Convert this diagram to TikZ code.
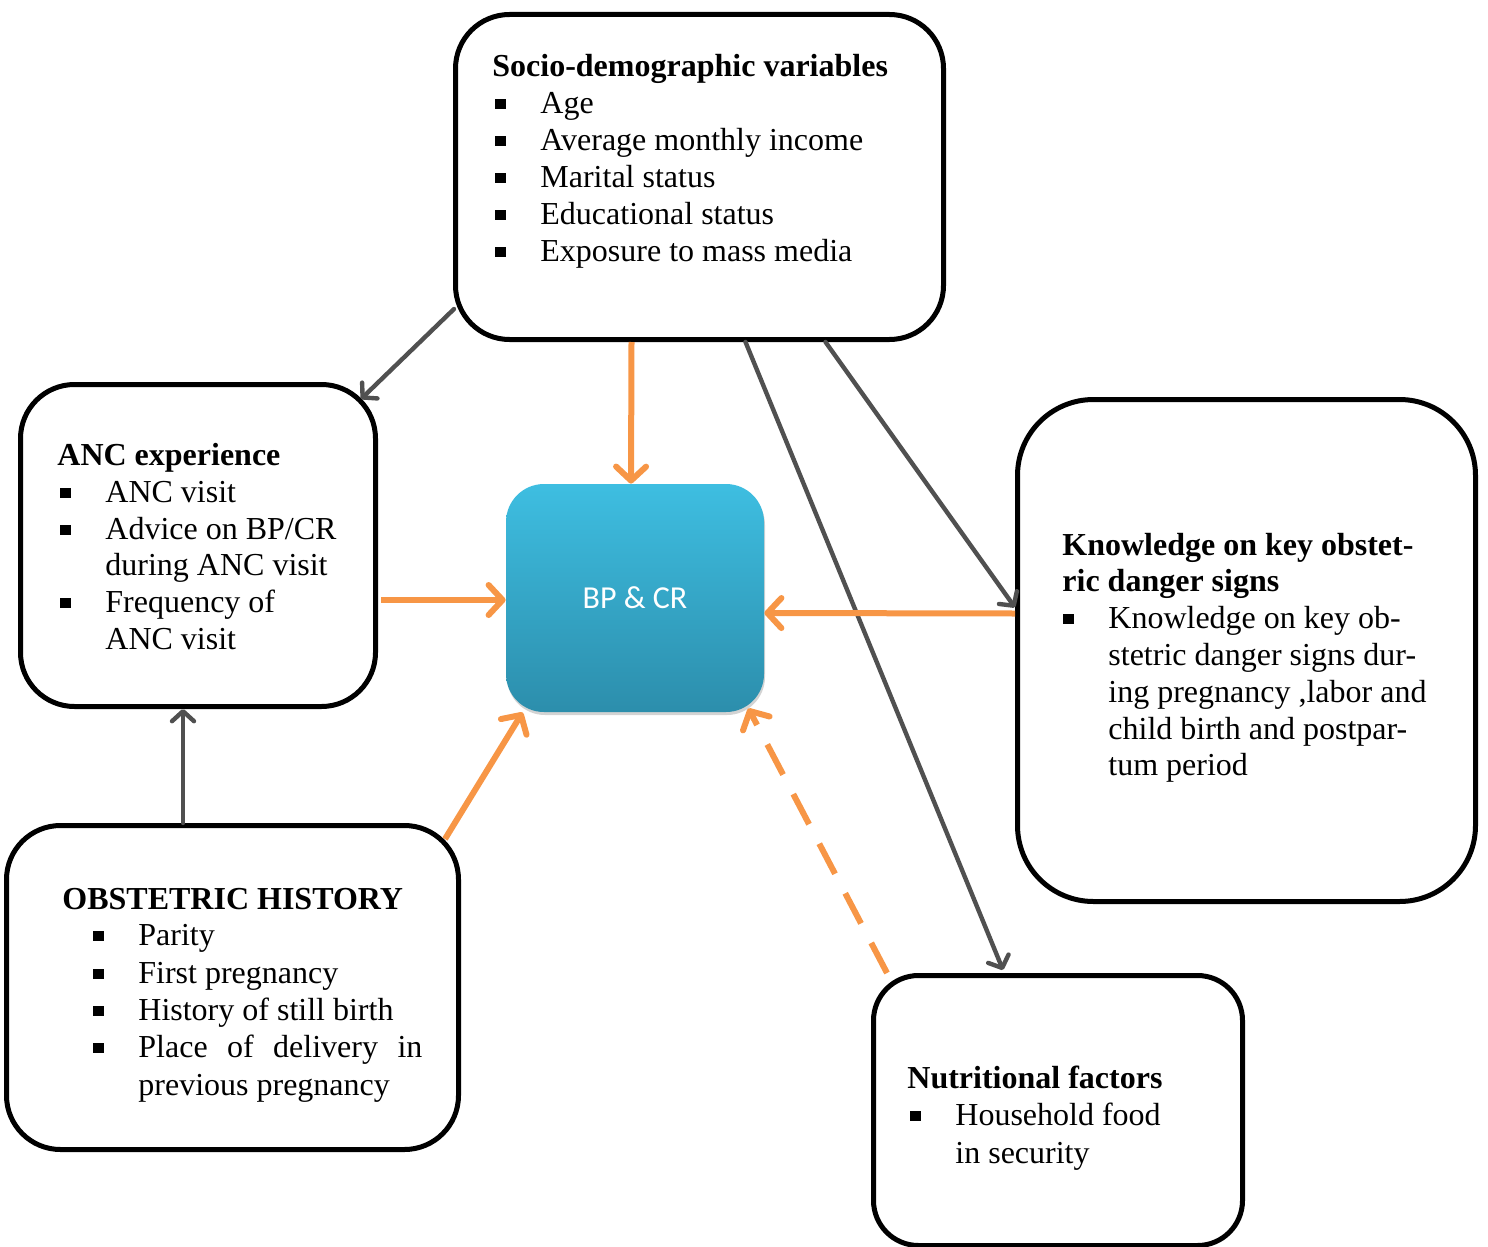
\documentclass[tikz,border=0pt]{standalone}
\usepackage{fontspec}
\setmainfont{Liberation Serif}
\newfontfamily\calib{Carlito}
\usetikzlibrary{arrows.meta,calc,shadows}
\newcommand\myfs{\fontsize{16}{18.5}\selectfont}
\newcommand\mysq{\rule[2pt]{5.2pt}{5.2pt}}
\definecolor{org}{RGB}{247,150,70}
\definecolor{gry}{RGB}{80,80,80}
\definecolor{tealtop}{RGB}{62,190,225}
\definecolor{tealbot}{RGB}{44,142,172}
\begin{document}
\begin{tikzpicture}[x=0.5pt,y=-0.5pt,
  txt/.style={anchor=base west, inner sep=0pt, font=\myfs, yshift=-1pt},
  ttl/.style={txt, font=\myfs\bfseries},
  bx/.style={draw=black, line width=2.5pt, inner sep=0pt, fill=white},
  garr/.style={draw=gry, line width=2.2pt, line cap=round,
     -{Straight Barb[length=5pt,width=11pt,line cap=round,line join=round]}},
  oarr/.style={draw=org, line width=3pt,
     -{Straight Barb[length=7pt,width=15pt,line cap=round,line join=round]}},
]
\useasboundingbox (0,0) rectangle (1488,1247);

% boxes
\node[bx, rounded corners=27pt, minimum width=244pt, minimum height=162.5pt] (socio) at (699.5,177) {};
\node[bx, rounded corners=27pt, minimum width=177.5pt, minimum height=161pt] (anc) at (198,545.5) {};
\node[bx, rounded corners=27pt, minimum width=226pt, minimum height=162pt] (obst) at (232.5,987.5) {};
\node[bx, rounded corners=38pt, minimum width=229pt, minimum height=251pt] (know) at (1246.5,650.5) {};
\node[bx, rounded corners=22.5pt, minimum width=184.5pt, minimum height=135pt] (nutr) at (1058,1110.5) {};
\node[rounded corners=19pt, minimum width=129pt, minimum height=114pt, inner sep=0pt,
  top color=tealtop, bottom color=tealbot, draw=none,
  drop shadow={shadow xshift=0.5pt, shadow yshift=-1.5pt, opacity=0.35},
  text=white, font=\calib\fontsize{16}{19}\selectfont] (bp) at (635,598) {BP \& CR};

% socio text
\node[ttl] (s0) at (492,75) {Socio-demographic variables};
\node[txt] (sb1) at (495,111) {\mysq}; \node[txt] (s1) at (540,111) {Age};
\node[txt] (sb2) at (495,148) {\mysq}; \node[txt] (s2) at (540,148) {Average monthly income};
\node[txt] (sb3) at (495,185) {\mysq}; \node[txt] (s3) at (540,185) {Marital status};
\node[txt] (sb4) at (495,222) {\mysq}; \node[txt] (s4) at (540,222) {Educational status};
\node[txt] (sb5) at (495,259) {\mysq}; \node[txt] (s5) at (540,259) {Exposure to mass media};

% ANC text
\node[ttl] (a0) at (57,463) {ANC experience};
\node[txt] (ab1) at (60,500) {\mysq}; \node[txt] (a1) at (105,500) {ANC visit};
\node[txt] (ab2) at (60,537) {\mysq}; \node[txt] (a2) at (105,537) {Advice on BP/CR};
\node[txt] (a3) at (105,573) {during ANC visit};
\node[txt] (ab4) at (60,610) {\mysq}; \node[txt] (a4) at (105,610) {Frequency of};
\node[txt] (a5) at (105,647) {ANC visit};

% Knowledge text
\node[ttl] (k0) at (1062,553) {Knowledge on key obstet-};
\node[ttl] (k00) at (1062,589) {ric danger signs};
\node[txt] (kb1) at (1063,626) {\mysq}; \node[txt] (k1) at (1108,626) {Knowledge on key ob-};
\node[txt] (k2) at (1108,663) {stetric danger signs dur-};
\node[txt] (k3) at (1108,700) {ing pregnancy ,labor and};
\node[txt] (k4) at (1108,737) {child birth and postpar-};
\node[txt] (k5) at (1108,773) {tum period};

% Obstetric text
\node[ttl] (o0) at (62,907) {OBSTETRIC HISTORY};
\node[txt] (ob1) at (93,943) {\mysq}; \node[txt] (o1) at (138,943) {Parity};
\node[txt] (ob2) at (93,981) {\mysq}; \node[txt] (o2) at (138,981) {First pregnancy};
\node[txt] (ob3) at (93,1018) {\mysq}; \node[txt] (o3) at (138,1018) {History of still birth};
\node[txt] (ob4) at (93,1055) {\mysq}; \node[txt] (o4) at (138,1055) {\makebox[142pt][s]{Place of delivery in}};
\node[txt] (o5) at (138,1093) {previous pregnancy};

% Nutritional text
\node[ttl] (n0) at (907,1086) {Nutritional factors};
\node[txt] (nb1) at (910,1123) {\mysq}; \node[txt] (n1) at (955,1123) {Household food};
\node[txt] (n2) at (955,1161) {in security};

% connectors
\draw[garr] ($(socio.south west)+(1,-33)$) -- ($(anc.north east)+(-17,17)$);
\draw[oarr] ($(socio.south)+(-68,0)$) -- ($(bp.north)+(-4,0)$);
\draw[garr] ($(socio.south)+(46,0)$) -- ($(nutr.north)+(-55,-3)$);
\draw[garr] ($(socio.south)+(126,0)$) -- ($(know.west)+(0,-43)$);
\draw[oarr] ($(know.west)+(0,-37)$) -- ($(bp.east)+(0,15)$);
\draw[oarr] ($(anc.east)+(3,54.5)$) -- ($(bp.west)+(0,2)$);
\draw[garr] ($(obst.north)+(-49.5,0)$) -- ($(anc.south)+(-15,0)$);
\draw[oarr] ($(obst.north east)+(-16,16)$) -- ($(bp.south west)+(17,0)$);
\draw[oarr, dash pattern=on 17pt off 11pt] ($(nutr.north west)+(16,0)$) -- ($(bp.south east)+(-16,-4)$);
\end{tikzpicture}
\end{document}
